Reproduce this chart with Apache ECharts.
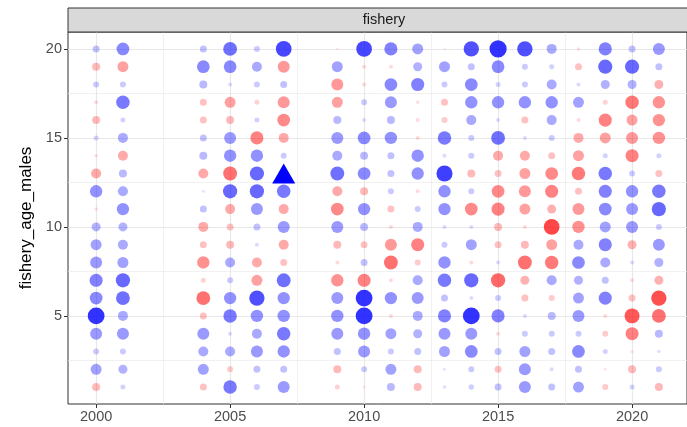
<!DOCTYPE html>
<html><head><meta charset="utf-8">
<script src="https://cdn.jsdelivr.net/npm/echarts@6/dist/echarts.min.js"></script>
<style>html,body{margin:0;padding:0;background:#fff}#c{width:687px;height:427px}</style>
</head><body><div id="c"></div>
<script>
const years = [2000,2001,2004,2005,2006,2007,2009,2010,2011,2012,2013,2014,2015,2016,2017,2018,2019,2020,2021];
const ages = [20,19,18,17,16,15,14,13,12,11,10,9,8,7,6,5,4,3,2,1];
// residuals: positive = blue, negative = red; rows follow `ages`, columns follow `years`
const resid = [
 [0.5,1.2,0.5,1.5,0.4,2.0,-0.05,2.0,1.3,0.9,-0.05,1.9,2.4,1.9,0.8,-0.15,1.3,0.5,1.0],
 [-0.6,-0.9,1.2,1.2,0.8,-1.0,0.9,-0.2,-0.2,0.7,0.9,0.5,1.2,0.4,0.3,-0.5,1.6,1.6,0.5],
 [0.4,0.4,0.6,0.2,0.4,0.5,-1.0,-0.2,1.2,1.3,0.4,1.2,0.3,0.4,0.8,0.2,0.7,0.7,-0.7],
 [-0.2,1.4,-0.5,-0.9,-0.3,-1.0,-0.9,0.4,1.0,-0.15,-0.5,1.1,1.1,1.1,1.1,0.9,-0.3,-1.4,-1.1],
 [-0.6,0.3,-0.5,-0.6,0.3,-1.2,0.6,0.2,0.6,-0.2,-0.4,0.8,0.2,-0.5,0.8,-0.2,-1.3,-0.9,-1.1],
 [0.3,0.8,0.5,1.0,-1.3,-0.8,1.0,1.2,1.1,-0.2,1.4,0.4,1.5,0.2,0.4,-0.8,-0.9,-1.0,-1.1],
 [-0.15,-0.8,0.6,1.1,1.1,0.4,0.8,0.6,0.5,1.1,0.2,0.4,-0.8,-0.8,-0.5,-0.9,0.3,-1.3,0.3],
 [-0.8,0.6,-0.8,-1.5,1.6,null,1.5,1.2,0.5,1.1,2.1,-0.6,-0.5,-0.9,-1.2,-1.4,1.4,0.4,-0.5],
 [1.1,0.8,0.1,1.6,1.6,1.4,-0.8,-0.6,0.4,-0.2,1.1,0.4,-1.2,-1.0,-1.3,-0.5,1.3,1.1,1.4],
 [-0.15,1.1,0.5,-0.8,1.0,-0.8,-1.2,1.1,-0.5,0.4,1.1,-1.2,-1.3,-0.9,-0.7,-1.0,1.2,1.0,1.6],
 [0.7,0.7,-0.8,-0.5,0.5,1.0,1.0,0.6,-0.2,0.8,0.2,0.2,-0.6,-0.2,-2.0,-1.1,0.9,1.0,0.4],
 [0.9,0.8,-0.5,-0.6,0.2,-0.8,-0.6,-0.5,-1.0,-1.3,0.4,0.9,-0.5,-0.6,-0.9,0.8,1.3,-0.7,1.0],
 [1.0,0.9,-1.1,0.8,-0.8,-0.5,-0.2,0.5,-1.5,-0.4,1.1,-0.2,0.2,-1.5,-1.4,1.2,0.8,0.2,0.7],
 [1.3,1.6,-0.3,0.4,-0.9,1.5,-1.1,-1.3,-0.2,0.8,1.4,1.6,-1.6,-0.7,0.8,0.7,0.5,-0.2,-0.7],
 [1.2,1.5,-1.5,1.1,1.9,1.1,1.0,2.3,1.1,1.0,0.5,0.2,0.4,-0.5,-0.4,0.9,1.3,-0.5,-1.9],
 [2.3,0.8,-0.5,1.4,1.1,1.1,1.1,2.3,-0.2,0.8,1.3,2.3,1.3,0.2,0.6,1.0,-0.2,-1.8,-1.5],
 [1.0,1.0,1.0,0.2,0.8,1.4,1.0,1.1,0.9,0.7,1.0,1.0,-0.2,0.4,0.4,0.4,-0.4,-1.3,0.6],
 [0.4,0.4,0.8,0.8,1.0,1.1,0.5,1.0,0.4,0.5,0.9,1.2,0.5,0.9,0.5,1.2,0.3,-0.1,0.15],
 [0.9,0.7,0.9,-0.4,0.5,0.5,-0.6,0.4,0.9,-0.6,0.1,0.4,-0.5,1.0,0.2,0.5,-0.1,-0.6,0.4],
 [-0.6,0.3,-0.5,1.4,0.4,1.0,-0.3,-0.1,0.6,-0.6,0.15,0.35,0.5,1.0,0.5,0.9,-0.4,0.3,-0.6]
];
const triangleYear = [2007];
const triangleAge = [13];
const xTicks = [2000,2005,2010,2015,2020];
const xMinor = [2002.5,2007.5,2012.5,2017.5];
const yTicks = [5,10,15,20];
const yMinor = [2.5,7.5,12.5,17.5];

const pts = [];
ages.forEach((a,i)=>years.forEach((yr,j)=>{const v=resid[i][j]; if(v!==null) pts.push([yr,a,v]);}));
const tri = triangleYear.map((yr,i)=>[yr,triangleAge[i]]);

function sizeOf(v){const m=Math.abs(v); return m<=1 ? 2+10*m : 12+3.7*(m-1);}
function alphaOf(v){const m=Math.abs(v); return Math.min(1, m<=1 ? 0.1+0.4*m : 0.5+0.4*(m-1));}

const font = '"Liberation Sans", Arial, sans-serif';
const xMin = 1998.95, xMax = 2022.05, yMin = 0.05, yMax = 20.95;
const chart = echarts.init(document.getElementById('c'), null, {renderer:'canvas'});
chart.setOption({
  animation:false,
  backgroundColor:'#fff',
  grid:{left:68, top:32, right:-14, bottom:23, show:true, borderColor:'#333', borderWidth:1, backgroundColor:'#fff', containLabel:false},
  xAxis:[
    {type:'value', min:xMin, max:xMax, position:'bottom',
     axisLine:{show:false},
     axisTick:{show:true, customValues:xTicks, length:4, lineStyle:{color:'#333', width:1}},
     axisLabel:{customValues:xTicks, formatter:(v)=>String(v), color:'#4d4d4d', fontSize:14.5, fontFamily:font, margin:5},
     splitLine:{show:true, lineStyle:{color:'#e8e8e8', width:1.2}}},
    {type:'value', min:xMin, max:xMax, position:'top',
     axisLine:{show:false},
     axisTick:{show:false, customValues:xMinor},
     axisLabel:{show:false, customValues:xMinor},
     splitLine:{show:true, lineStyle:{color:'#ebebeb', width:0.7}}}
  ],
  yAxis:[
    {type:'value', min:yMin, max:yMax, position:'left',
     name:'fishery_age_males', nameLocation:'middle', nameGap:33,
     nameTextStyle:{color:'#000', fontSize:17, fontFamily:font},
     axisLine:{show:false},
     axisTick:{show:true, customValues:yTicks, length:4, lineStyle:{color:'#333', width:1}},
     axisLabel:{customValues:yTicks, formatter:(v)=>String(v), color:'#4d4d4d', fontSize:14.5, fontFamily:font, margin:6},
     splitLine:{show:true, lineStyle:{color:'#e8e8e8', width:1.2}}},
    {type:'value', min:yMin, max:yMax, position:'right',
     axisLine:{show:false},
     axisTick:{show:false, customValues:yMinor},
     axisLabel:{show:false, customValues:yMinor},
     splitLine:{show:true, lineStyle:{color:'#ebebeb', width:0.7}}}
  ],
  graphic:[
    {type:'rect', shape:{x:68, y:8, width:700, height:24}, style:{fill:'#d9d9d9', stroke:'#333', lineWidth:1}, z:10},
    {type:'text', x:384, y:20, style:{text:'fishery', fill:'#1a1a1a', fontSize:14.5, fontFamily:font, textAlign:'center', textVerticalAlign:'middle'}, z:11}
  ],
  series:[
    {type:'scatter', xAxisIndex:0, yAxisIndex:0, data:pts, symbol:'circle',
     symbolSize:(v)=>sizeOf(v[2]),
     itemStyle:{color:(p)=>{const v=p.data[2]; const a=alphaOf(v); return v>=0?`rgba(0,0,255,${a})`:`rgba(255,0,0,${a})`;}},
     emphasis:{disabled:true}, z:3},
    {type:'scatter', xAxisIndex:0, yAxisIndex:0, data:tri, symbol:'triangle', symbolSize:[23,20],
     itemStyle:{color:'#0000ff', opacity:1}, emphasis:{disabled:true}, z:4}
  ]
});
</script></body></html>
